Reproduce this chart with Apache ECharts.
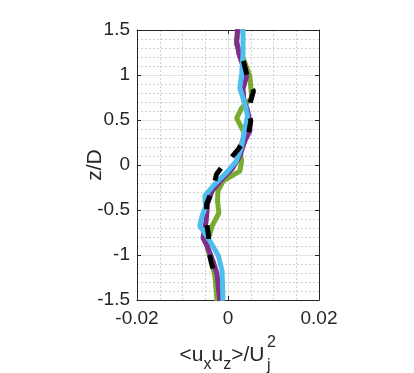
<!DOCTYPE html>
<html>
<head>
<meta charset="utf-8">
<script src="https://cdn.jsdelivr.net/npm/echarts@6/dist/echarts.min.js"></script>
<style>
  html, body { margin: 0; padding: 0; background: #fff; }
  #main { width: 414px; height: 373px; }
</style>
</head>
<body>
<div id="main"></div>
<script>
// profile data: z/D positions and <ux uz>/Uj^2 values
var greenZ = [1.51, 1.344, 1.233, 0.99, 0.744, 0.633, 0.522, 0.344, 0.189, 0.044, -0.067, -0.178, -0.289, -0.4, -0.533, -0.678, -0.844, -0.922, -1.067, -1.233, -1.51];
var greenX = [0.0023, 0.0018, 0.0030, 0.0048, 0.0052, 0.0030, 0.0019, 0.0037, 0.0026, 0.0030, 0.0026, -0.0011, -0.0022, -0.0023, -0.0020, -0.0035, -0.0044, -0.0046, -0.0036, -0.0029, -0.0024];

var purpleZ = [1.51, 1.378, 1.233, 1.1, 0.99, 0.844, 0.711, 0.622, 0.489, 0.378, 0.267, 0.1, -0.044, -0.156, -0.289, -0.433, -0.622, -0.811, -0.922, -1.067, -1.211, -1.367, -1.51];
var purpleX = [0.0021, 0.0019, 0.0024, 0.0033, 0.0041, 0.0033, 0.0035, 0.0042, 0.0048, 0.0048, 0.0037, 0.0026, 0.0009, -0.0013, -0.0035, -0.0045, -0.0048, -0.0055, -0.0044, -0.0033, -0.0024, -0.0021, -0.0018];

var blueZ = [1.51, 1.233, 1.011, 0.856, 0.678, 0.544, 0.4, 0.189, 0.044, -0.089, -0.222, -0.344, -0.456, -0.567, -0.678, -0.756, -0.867, -1.011, -1.178, -1.344, -1.51];
var blueX = [0.0033, 0.0033, 0.0030, 0.0026, 0.0037, 0.0043, 0.0037, 0.0029, 0.0018, -0.0004, -0.0031, -0.0051, -0.0049, -0.0057, -0.0062, -0.0051, -0.0037, -0.0021, -0.0013, -0.0012, -0.0011];

var blackZ = [1.156, 1.011, 0.911, 0.822, 0.678, 0.578, 0.489, 0.344, 0.256, 0.178, 0.044, -0.033, -0.1, -0.244, -0.344, -0.433, -0.589, -0.678, -0.778, -0.9, -1.011, -1.1, -1.256];
var blackX = [0.0034, 0.0041, 0.0046, 0.0056, 0.0048, 0.0046, 0.0050, 0.0045, 0.0033, 0.0023, 0.0001, -0.0015, -0.0025, -0.0032, -0.0040, -0.0047, -0.0047, -0.0046, -0.0043, -0.0043, -0.0040, -0.0036, -0.0026];

var xTicks = [-0.02, 0, 0.02];
var yTicks = [-1.5, -1, -0.5, 0, 0.5, 1, 1.5];

function pairs(xs, zs) {
  return xs.map(function (x, i) { return [x, zs[i]]; });
}

var chart = echarts.init(document.getElementById('main'));
var txt = '#262626';
var font = 'Liberation Sans';

var axisCommon = {
  type: 'value',
  axisLine: { show: true, onZero: false, lineStyle: { color: txt, width: 1 } },
  axisTick: { show: true, inside: true, length: 4, lineStyle: { color: txt } },
  minorTick: { show: false, splitNumber: 5 }
};

var option = {
  animation: false,
  grid: { left: 137, top: 30, width: 182, height: 270 },
  xAxis: [
    Object.assign({}, axisCommon, {
      position: 'bottom',
      min: -0.02, max: 0.02, interval: 0.02,
      minorTick: { show: false, splitNumber: 4 },
      axisLabel: {
        color: txt, fontFamily: font, fontSize: 19, margin: 9,
        formatter: function (v) { return xTicks.indexOf(v) >= 0 ? String(v) : ''; }
      },
      splitLine: { show: true, lineStyle: { color: '#e3e3e3', width: 1 } },
      minorSplitLine: { show: true, lineStyle: { color: '#d2d2d2', width: 1, type: [2, 2] } }
    }),
    Object.assign({}, axisCommon, {
      position: 'top',
      min: -0.02, max: 0.02, interval: 0.02,
      axisLabel: { show: false },
      splitLine: { show: false }
    })
  ],
  yAxis: [
    Object.assign({}, axisCommon, {
      position: 'left',
      min: -1.5, max: 1.5, interval: 0.5,
      axisLabel: {
        color: txt, fontFamily: font, fontSize: 19, margin: 7,
        formatter: function (v) { return yTicks.indexOf(v) >= 0 ? String(v) : ''; }
      },
      splitLine: { show: true, lineStyle: { color: '#e3e3e3', width: 1 } },
      minorSplitLine: { show: true, lineStyle: { color: '#d2d2d2', width: 1, type: [2, 2] } }
    }),
    Object.assign({}, axisCommon, {
      position: 'right',
      min: -1.5, max: 1.5, interval: 0.5,
      axisLabel: { show: false },
      splitLine: { show: false }
    })
  ],
  series: [
    {
      type: 'line', data: pairs(greenX, greenZ), showSymbol: false, symbol: 'none',
      lineStyle: { color: '#77AC30', width: 5 }, z: 2
    },
    {
      type: 'line', data: pairs(purpleX, purpleZ), showSymbol: false, symbol: 'none',
      lineStyle: { color: '#7E2F8E', width: 5 }, z: 3
    },
    {
      type: 'line', data: pairs(blueX, blueZ), showSymbol: false, symbol: 'none',
      lineStyle: { color: '#4DBEEE', width: 5 }, z: 4
    },
    {
      type: 'line', data: pairs(blackX, blackZ), showSymbol: false, symbol: 'none',
      lineStyle: { color: '#000000', width: 5, type: [14, 16], cap: 'butt' }, z: 5
    }
  ],
  graphic: [
    {
      type: 'text', x: 95, y: 165, rotation: Math.PI / 2,
      style: {
        text: 'z/D', fill: txt, font: '21px ' + font,
        align: 'center', verticalAlign: 'middle'
      }
    },
    {
      type: 'text', x: 222, y: 355,
      style: {
        text: '{m|<u}{s|x}{m|u}{s|z}{m|>/U}',
        align: 'center', verticalAlign: 'middle',
        rich: {
          m: { fontFamily: font, fontSize: 21, fill: txt, color: txt, lineHeight: 36, verticalAlign: 'middle' },
          s: { fontFamily: font, fontSize: 16, fill: txt, color: txt, lineHeight: 18, verticalAlign: 'bottom' }
        }
      }
    },
    {
      type: 'text', x: 267, y: 343,
      style: { text: '2', fill: txt, font: '16px ' + font, align: 'left', verticalAlign: 'middle' }
    },
    {
      type: 'text', x: 267, y: 366,
      style: { text: 'j', fill: txt, font: '16px ' + font, align: 'left', verticalAlign: 'middle' }
    }
  ]
};

chart.setOption(option);
</script>
</body>
</html>
